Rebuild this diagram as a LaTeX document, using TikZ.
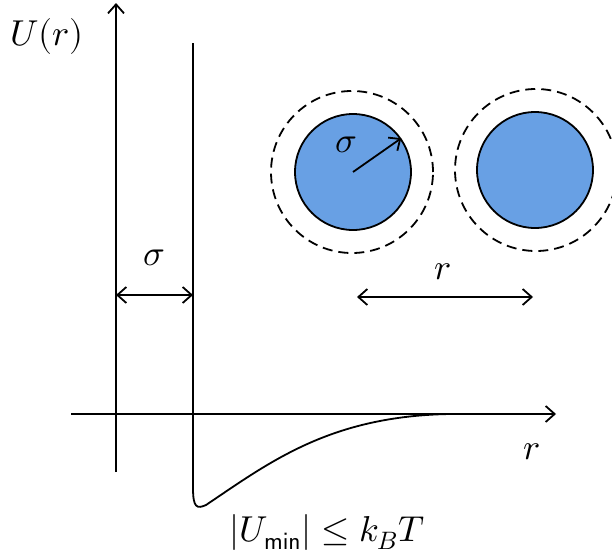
\documentclass[tikz,border=0pt]{standalone}
\usepackage{amsmath,amssymb}
\usepackage{unicode-math}
\usepackage{tikz}
\usetikzlibrary{arrows.meta}
\usepackage{xcolor}
\definecolor{ballblue}{HTML}{68A0E4}

\begin{document}
\begin{tikzpicture}[x=1pt,y=-1pt,line width=1.8pt,
    font=\fontsize{36}{40}\selectfont,
    tip/.style={-{Straight Barb[length=9pt,width=16pt,line width=1.8pt]}},
    dtip/.style={{Straight Barb[length=9pt,width=16pt,line width=1.8pt]}-{Straight Barb[length=9pt,width=16pt,line width=1.8pt]}},
    ball/.style={circle,draw,fill=ballblue,minimum size=116pt,inner sep=0pt},
    shell/.style={circle,draw,dashed,dash pattern=on 10pt off 6pt,minimum size=162pt,inner sep=0pt}]
  \useasboundingbox (0,0) rectangle (612,554);

  % axes
  \coordinate (ybot) at (116,472);
  \coordinate (ytop) at (116,3);
  \coordinate (xleft) at (71,414);
  \coordinate (xright) at (556,414);
  \draw[tip] (ybot) -- (ytop);
  \draw[tip] (xleft) -- (xright);
  \node (Ulabel) at (47,36) {$U(r)$};
  \node (rlabel) at (532,452) {$r$};

  % potential: hard wall and shallow well
  \coordinate (wall) at (193,43);
  \draw (wall) -- (193,488) .. controls (193,508) and (197,509) .. (206,505)
    .. controls (270,462) and (330,416) .. (450,414);
  \node (wlabel) at (327,532) {$|U_{\mathsf{min}}|\leq k_BT$};

  % sigma between axis and wall
  \coordinate (sa) at (116,295);
  \coordinate (sb) at (193,295);
  \draw[dtip] (sa) -- (sb);
  \node (slabel) at (154,258) {$\sigma$};

  % two particles
  \node[shell] (s1) at (352,172) {};
  \node[shell] (s2) at (536,170) {};
  \node[ball] (b1) at (353,172) {};
  \node[ball] (b2) at (535,170) {};
  \draw[tip] (b1.center) -- (b1.35);
  \node (rlabel2) at (346,145) {$\sigma$};

  % distance between centres
  \coordinate (ra) at (357,297);
  \coordinate (rb) at (533,297);
  \draw[dtip] (ra) -- (rb);
  \node (dlabel) at (443,272) {$r$};
\end{tikzpicture}
\end{document}
